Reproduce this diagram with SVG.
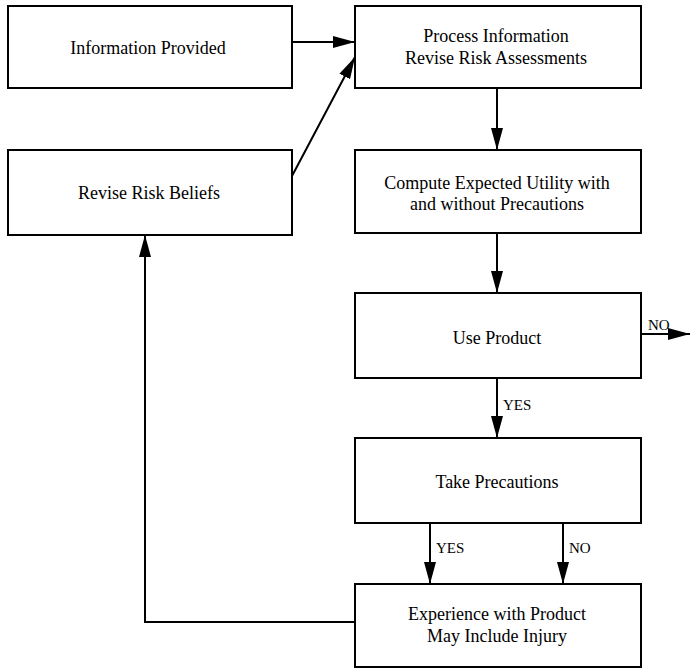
<svg xmlns="http://www.w3.org/2000/svg" width="690" height="668" viewBox="0 0 690 668">
<defs>
<style>
.box{fill:#fff;stroke:#000;stroke-width:2}
.t{font-family:"Liberation Serif","Times New Roman",serif;font-size:18px;fill:#000;text-anchor:middle}
.l{font-family:"Liberation Serif","Times New Roman",serif;font-size:15px;fill:#000}
.c{stroke:#000;stroke-width:2;fill:none}
</style>
<marker id="ahv" viewBox="0 0 22 12" refX="22" refY="6" markerWidth="22" markerHeight="12" markerUnits="userSpaceOnUse" orient="auto">
<path d="M0,0 L22,6 L0,12 Z" fill="#000"/>
</marker>
</defs>
<rect width="690" height="668" fill="#fff"/>
<g id="connectors">
<line class="c" x1="292" y1="42" x2="355" y2="42" marker-end="url(#ahv)"/>
<line class="c" x1="292" y1="176" x2="355" y2="57" marker-end="url(#ahv)"/>
<line class="c" x1="497" y1="88" x2="497" y2="150" marker-end="url(#ahv)"/>
<line class="c" x1="497" y1="233" x2="497" y2="293" marker-end="url(#ahv)"/>
<line class="c" x1="641" y1="334" x2="690" y2="334" marker-end="url(#ahv)"/>
<line class="c" x1="497" y1="378" x2="497" y2="438" marker-end="url(#ahv)"/>
<line class="c" x1="430" y1="523" x2="430" y2="584" marker-end="url(#ahv)"/>
<line class="c" x1="563" y1="523" x2="563" y2="584" marker-end="url(#ahv)"/>
<polyline class="c" points="355,622 145,622 145,235" marker-end="url(#ahv)"/>
<text class="l" x="648" y="330">NO</text>
<text class="l" x="503" y="410">YES</text>
<text class="l" x="436" y="553">YES</text>
<text class="l" x="569" y="553">NO</text>
</g>
<g id="info-provided">
<rect class="box" x="8" y="6" width="284" height="82"/>
<text class="t" x="148" y="54">Information Provided</text>
</g>
<g id="revise-beliefs">
<rect class="box" x="8" y="150" width="284" height="85"/>
<text class="t" x="149" y="199">Revise Risk Beliefs</text>
</g>
<g id="process-info">
<rect class="box" x="355" y="6" width="286" height="82"/>
<text class="t" x="496" y="42">Process Information</text>
<text class="t" x="496" y="64">Revise Risk Assessments</text>
</g>
<g id="compute-utility">
<rect class="box" x="355" y="150" width="286" height="83"/>
<text class="t" x="497" y="189">Compute Expected Utility with</text>
<text class="t" x="497" y="210">and without Precautions</text>
</g>
<g id="use-product">
<rect class="box" x="355" y="293" width="286" height="85"/>
<text class="t" x="497" y="344">Use Product</text>
</g>
<g id="take-precautions">
<rect class="box" x="355" y="438" width="286" height="85"/>
<text class="t" x="497" y="488">Take Precautions</text>
</g>
<g id="experience">
<rect class="box" x="355" y="584" width="286" height="83"/>
<text class="t" x="497" y="620">Experience with Product</text>
<text class="t" x="497" y="642">May Include Injury</text>
</g>
</svg>
